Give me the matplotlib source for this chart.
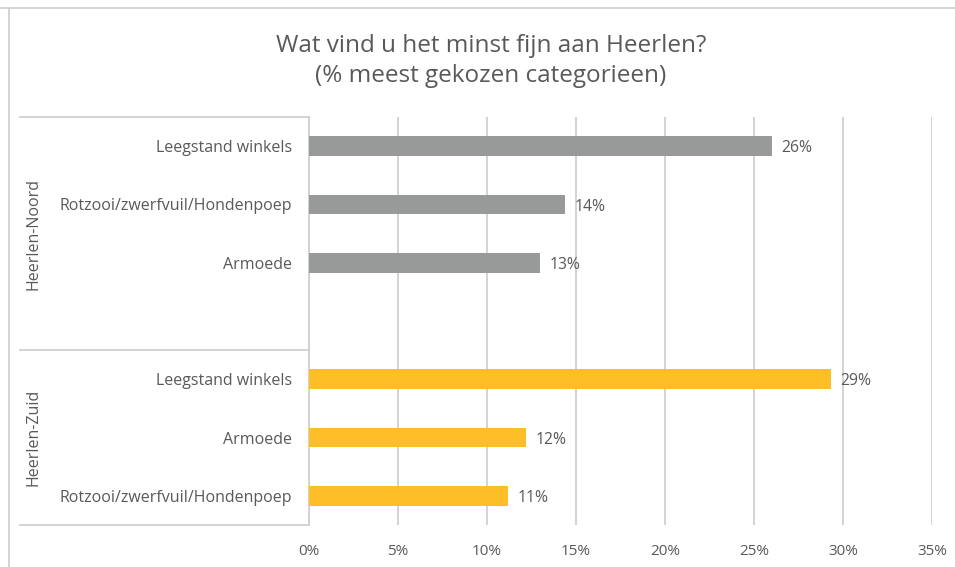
import matplotlib
matplotlib.use("Agg")
import matplotlib.pyplot as plt
from matplotlib.lines import Line2D
from matplotlib.ticker import PercentFormatter, MultipleLocator

# Data:
groups = ["Heerlen-Noord", "Heerlen-Zuid"]
noord_labels = ["Leegstand winkels", "Rotzooi/zwerfvuil/Hondenpoep", "Armoede"]
noord_values = [26, 14.4, 13]
zuid_labels = ["Leegstand winkels", "Armoede", "Rotzooi/zwerfvuil/Hondenpoep"]
zuid_values = [29.3, 12.2, 11.2]
noord_text = ["26%", "14%", "13%"]
zuid_text = ["29%", "12%", "11%"]

# Colours:
grey = "#989A9A"
gold = "#FDBE27"
text_col = "#595959"
line_col = "#D0D0D0"

plt.rcParams['font.family'] = ['Open Sans', 'DejaVu Sans']

fig = plt.figure(figsize=(9.55, 5.67), dpi=100)
ax = fig.add_axes([309/955, 1-525/567, 623/955, 408/567])

# Slot positions (Noord has an empty 4th slot):
noord_pos = [0, 1, 2]
zuid_pos = [4, 5, 6]

ax.barh(noord_pos, noord_values, height=0.34, color=grey, zorder=3)
ax.barh(zuid_pos, zuid_values, height=0.34, color=gold, zorder=3)

for p, v, t in zip(noord_pos + zuid_pos, noord_values + zuid_values, noord_text + zuid_text):
    ax.annotate(t, (v, p), xytext=(7, -1.5), textcoords="offset points",
                va="center", ha="left", fontsize=11.3, color=text_col)

ax.set_ylim(6.5, -0.5)
ax.set_xlim(0, 35)
ax.xaxis.set_major_locator(MultipleLocator(5))
ax.xaxis.set_major_formatter(PercentFormatter(decimals=0))
ax.grid(axis="x", color=line_col, linewidth=1.3, zorder=0)

ax.set_yticks(noord_pos + zuid_pos)
ax.set_yticklabels(noord_labels + zuid_labels)
ax.tick_params(axis="y", length=0, pad=12, labelsize=11.5, labelcolor=text_col)
ax.tick_params(axis="x", length=0, pad=14, labelsize=11, labelcolor=text_col)

for s in ["top", "right", "bottom"]:
    ax.spines[s].set_visible(False)
ax.spines["left"].set_color(line_col)
ax.spines["left"].set_linewidth(1.3)

# Group box on the left:
tr = ax.get_yaxis_transform()
x_left = (20 - 309) / 623
for yy in [-0.5, 3.5, 6.5]:
    ax.add_line(Line2D([x_left, 0], [yy, yy], transform=tr, color=line_col,
                       linewidth=1.3, clip_on=False))
ax.text((34 - 309) / 623, 1.5, groups[0], transform=tr, rotation=90,
        ha="center", va="center", fontsize=11.5, color=text_col)
ax.text((34 - 309) / 623, 5, groups[1], transform=tr, rotation=90,
        ha="center", va="center", fontsize=11.5, color=text_col)

# Chart frame (partly cropped):
fig.add_artist(Line2D([0, 1], [1 - 8/567, 1 - 8/567], color=line_col, linewidth=1.3))
fig.add_artist(Line2D([9/955, 9/955], [0, 1 - 8/567], color=line_col, linewidth=1.3))

# Title:
fig.text(491/955, 1 - 61/567, "Wat vind u het minst fijn aan Heerlen?\n(% meest gekozen categorieen)",
         ha="center", va="center", fontsize=17.5, color=text_col, linespacing=1.3)

fig.savefig("out.png", dpi=100)
